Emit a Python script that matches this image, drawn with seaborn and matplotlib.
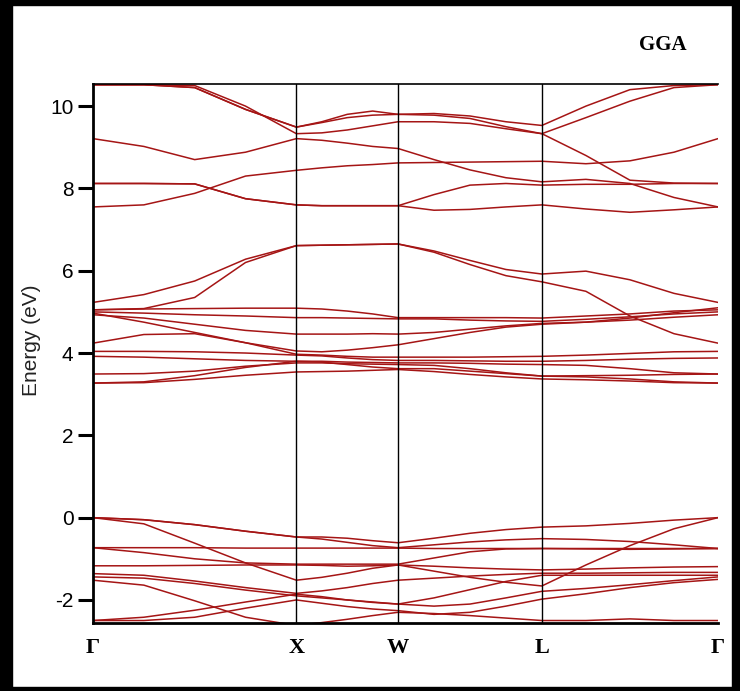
import numpy as np
import pandas as pd
import matplotlib
matplotlib.use("Agg")
import matplotlib.pyplot as plt
import seaborn as sns
from matplotlib.patches import Rectangle

# high symmetry points of the fcc path
k_labels = ["Γ", "X", "W", "L", "Γ"]
k_nodes = [0.0, 1.0, 1.5, 2.2071, 3.0731]

# energies (eV) read at: Γ, 3 pts, X, 3 pts, W, 3 pts, L, 3 pts, Γ
v1 = [0.00, -0.05, -0.17, -0.33, -0.47, -0.47, -0.50, -0.56, -0.61, -0.50, -0.38, -0.29, -0.23, -0.20, -0.14, -0.06, 0.00]
v2 = [0.00, -0.05, -0.17, -0.33, -0.47, -0.52, -0.60, -0.68, -0.73, -0.66, -0.59, -0.54, -0.51, -0.53, -0.58, -0.66, -0.75]
v3 = [0.00, -0.15, -0.62, -1.10, -1.52, -1.45, -1.35, -1.23, -1.15, -1.30, -1.45, -1.57, -1.66, -1.15, -0.68, -0.27, 0.00]
v4 = [-0.73, -0.73, -0.73, -0.74, -0.74, -0.74, -0.74, -0.74, -0.74, -0.75, -0.75, -0.75, -0.75, -0.75, -0.75, -0.75, -0.75]
v5 = [-0.73, -0.85, -1.00, -1.10, -1.13, -1.13, -1.13, -1.13, -1.13, -0.98, -0.83, -0.76, -0.75, -0.76, -0.77, -0.76, -0.75]
v6 = [-1.17, -1.17, -1.16, -1.15, -1.15, -1.16, -1.18, -1.17, -1.15, -1.18, -1.22, -1.25, -1.27, -1.25, -1.22, -1.20, -1.19]
v7 = [-1.36, -1.40, -1.54, -1.70, -1.84, -1.78, -1.70, -1.60, -1.52, -1.47, -1.42, -1.38, -1.35, -1.35, -1.34, -1.33, -1.33]
v8 = [-1.44, -1.47, -1.60, -1.76, -1.90, -1.95, -2.00, -2.05, -2.10, -1.95, -1.75, -1.55, -1.40, -1.40, -1.40, -1.40, -1.40]
v9 = [-1.52, -1.64, -2.02, -2.42, -2.62, -2.55, -2.47, -2.38, -2.30, -2.33, -2.38, -2.44, -2.50, -2.50, -2.46, -2.50, -2.50]
v10 = [-2.50, -2.42, -2.25, -2.05, -1.86, -1.92, -2.00, -2.06, -2.10, -2.15, -2.10, -1.95, -1.79, -1.72, -1.63, -1.53, -1.44]
v11 = [-2.50, -2.50, -2.42, -2.20, -2.00, -2.08, -2.16, -2.22, -2.26, -2.35, -2.30, -2.15, -1.98, -1.85, -1.70, -1.58, -1.50]

c1 = [5.23, 5.42, 5.75, 6.28, 6.61, 6.62, 6.63, 6.64, 6.65, 6.48, 6.25, 6.03, 5.92, 5.99, 5.78, 5.45, 5.23]
c2 = [5.05, 5.08, 5.35, 6.20, 6.61, 6.62, 6.63, 6.64, 6.65, 6.45, 6.15, 5.88, 5.73, 5.50, 4.90, 4.47, 4.24]
c3 = [5.05, 5.07, 5.08, 5.09, 5.09, 5.07, 5.02, 4.95, 4.86, 4.86, 4.86, 4.86, 4.85, 4.90, 4.95, 5.02, 5.05]
c4 = [5.00, 4.97, 4.93, 4.90, 4.86, 4.86, 4.85, 4.84, 4.83, 4.83, 4.80, 4.78, 4.77, 4.82, 4.88, 4.95, 5.00]
c5 = [4.93, 4.85, 4.70, 4.55, 4.46, 4.46, 4.46, 4.47, 4.46, 4.50, 4.58, 4.66, 4.72, 4.75, 4.80, 4.87, 4.93]
c6 = [4.97, 4.75, 4.50, 4.25, 4.05, 4.03, 4.07, 4.13, 4.20, 4.35, 4.50, 4.63, 4.70, 4.75, 4.85, 4.98, 5.10]
c7 = [4.24, 4.45, 4.47, 4.25, 3.97, 3.95, 3.92, 3.90, 3.90, 3.90, 3.90, 3.91, 3.92, 3.95, 3.99, 4.03, 4.04]
c8 = [4.04, 4.04, 4.03, 4.00, 3.95, 3.93, 3.88, 3.84, 3.82, 3.82, 3.81, 3.80, 3.80, 3.82, 3.85, 3.87, 3.88]
c9 = [3.92, 3.90, 3.86, 3.82, 3.80, 3.80, 3.78, 3.77, 3.76, 3.76, 3.75, 3.73, 3.72, 3.70, 3.62, 3.52, 3.49]
c10 = [3.49, 3.50, 3.56, 3.68, 3.76, 3.76, 3.74, 3.73, 3.72, 3.70, 3.62, 3.52, 3.44, 3.42, 3.37, 3.30, 3.27]
c11 = [3.27, 3.28, 3.36, 3.46, 3.54, 3.55, 3.56, 3.58, 3.60, 3.55, 3.48, 3.42, 3.37, 3.35, 3.32, 3.28, 3.27]
c12 = [3.27, 3.30, 3.45, 3.65, 3.80, 3.78, 3.72, 3.66, 3.62, 3.62, 3.56, 3.50, 3.44, 3.45, 3.46, 3.48, 3.49]

h1 = [10.52, 10.52, 10.45, 9.92, 9.49, 9.62, 9.80, 9.88, 9.80, 9.82, 9.76, 9.62, 9.53, 10.00, 10.40, 10.50, 10.52]
h2 = [10.52, 10.52, 10.50, 10.00, 9.33, 9.35, 9.42, 9.52, 9.62, 9.62, 9.58, 9.45, 9.33, 9.72, 10.12, 10.45, 10.52]
h3 = [9.21, 9.02, 8.70, 8.88, 9.21, 9.17, 9.10, 9.02, 8.97, 8.70, 8.45, 8.26, 8.16, 8.22, 8.12, 7.78, 7.55]
h4 = [8.12, 8.12, 8.11, 7.75, 7.60, 7.58, 7.58, 7.58, 7.58, 7.85, 8.08, 8.12, 8.08, 8.10, 8.10, 8.12, 8.12]
h5 = [7.55, 7.60, 7.88, 8.30, 8.44, 8.50, 8.55, 8.58, 8.62, 8.63, 8.64, 8.65, 8.66, 8.60, 8.67, 8.88, 9.21]
h6 = [8.12, 8.12, 8.11, 7.75, 7.60, 7.58, 7.58, 7.58, 7.58, 7.47, 7.49, 7.55, 7.60, 7.50, 7.42, 7.48, 7.55]
h7 = [10.52, 10.52, 10.45, 9.92, 9.49, 9.60, 9.72, 9.78, 9.80, 9.78, 9.70, 9.50, 9.33, 8.80, 8.20, 8.13, 8.12]

bands = [v1, v2, v3, v4, v5, v6, v7, v8, v9, v10, v11,
         c1, c2, c3, c4, c5, c6, c7, c8, c9, c10, c11, c12,
         h1, h2, h3, h4, h5, h6, h7]

# k value of every sample (4 steps per segment)
k_path = [k_nodes[0]]
for a, b in zip(k_nodes[:-1], k_nodes[1:]):
    k_path += list(np.linspace(a, b, 5)[1:])

rows = []
for i, band in enumerate(bands):
    for k, e in zip(k_path, band):
        rows.append({"band": i, "k": k, "E": e})
df = pd.DataFrame(rows)

sns.set_style("white")
plt.rcParams["axes.unicode_minus"] = False
plt.rcParams["text.color"] = "black"
plt.rcParams["ytick.color"] = "black"
plt.rcParams["xtick.color"] = "black"
plt.rcParams["axes.labelcolor"] = "black"

fig = plt.figure(figsize=(7.4, 6.91), dpi=100)
ax = fig.add_axes([93 / 740, 68 / 691, 625 / 740, 538.7 / 691])

sns.lineplot(data=df, x="k", y="E", units="band", estimator=None,
             color="#a51515", linewidth=1.1, ax=ax, legend=False)

for k in k_nodes[1:-1]:
    ax.axvline(k, color="black", linewidth=1.0)

ax.set_xlim(k_nodes[0], k_nodes[-1])
ax.set_ylim(-2.56, 10.53)
ax.set_yticks([-2, 0, 2, 4, 6, 8, 10])
ax.set_xticks(k_nodes)
ax.set_xticklabels(k_labels, family="Liberation Serif", fontweight="bold", fontsize=16)
ax.tick_params(axis="x", length=0, pad=11)
ax.tick_params(axis="y", direction="out", length=11, width=2.2, pad=3, labelsize=15, left=True)
for lab in ax.get_yticklabels():
    lab.set_family("Liberation Sans")

for side in ["left", "bottom"]:
    ax.spines[side].set_linewidth(2)
ax.spines["top"].set_linewidth(1.2)
ax.spines["right"].set_visible(False)
for s in ax.spines.values():
    s.set_color("black")

ax.set_xlabel("")
ax.set_ylabel("Energy (eV)", family="Liberation Sans", fontsize=15, color="#222222")
ax.yaxis.set_label_coords(-0.083, 0.525)

fig.text(663 / 740, 1 - 45 / 691, "GGA", family="Liberation Serif", fontweight="bold",
         fontsize=15, ha="center", va="center")

# black frame round the picture
for x, y, w, h in [(0, 0, 12 / 740, 1), (1 - 8 / 740, 0, 8 / 740, 1),
                   (0, 0, 1, 4 / 691), (0, 1 - 5 / 691, 1, 5 / 691)]:
    fig.add_artist(Rectangle((x, y), w, h, transform=fig.transFigure, color="black", zorder=10))

fig.savefig("out.png", dpi=100)
